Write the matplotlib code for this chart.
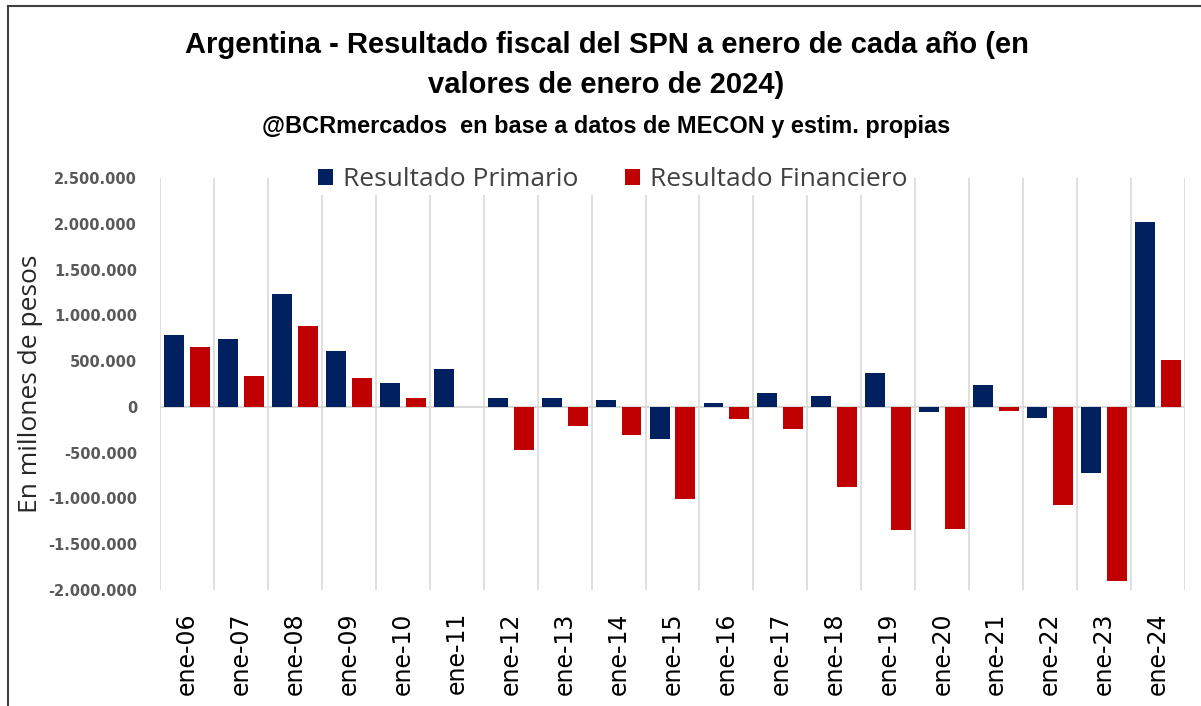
import numpy as np
import matplotlib
matplotlib.use('Agg')
import matplotlib.pyplot as plt
from matplotlib.ticker import FuncFormatter
from matplotlib.lines import Line2D

categories = ['ene-06', 'ene-07', 'ene-08', 'ene-09', 'ene-10', 'ene-11', 'ene-12',
              'ene-13', 'ene-14', 'ene-15', 'ene-16', 'ene-17', 'ene-18', 'ene-19',
              'ene-20', 'ene-21', 'ene-22', 'ene-23', 'ene-24']
primario = [783000, 736000, 1238000, 612000, 262000, 419000, 102000,
            102000, 73000, -346000, 44000, 153000, 117000, 375000,
            -58000, 240000, -120000, -717000, 2014000]
financiero = [655000, 339000, 881000, 310000, 102000, 0, -466000,
              -211000, -310000, -1002000, -135000, -244000, -874000, -1348000,
              -1333000, -40000, -1067000, -1901000, 510000]

BLUE = '#002060'
RED = '#C00000'
TITLE_FONT = ['Liberation Sans', 'DejaVu Sans']
LABEL_FONT = ['Open Sans', 'DejaVu Sans']

fig = plt.figure(figsize=(12.01, 7.06), dpi=100)
ax = fig.add_axes([0.1332, 0.1643, 0.8535, 0.5836])

x = np.arange(len(categories))
w = 0.37
ax.bar(x - 0.24, primario, w, color=BLUE, label='Resultado Primario', zorder=3)
ax.bar(x + 0.24, financiero, w, color=RED, label='Resultado Financiero', zorder=3)

ax.set_xlim(-0.5, len(categories) - 0.5)
ax.set_ylim(-2000000, 2500000)
ax.set_yticks(np.arange(-2000000, 2500001, 500000))
ax.yaxis.set_major_formatter(FuncFormatter(lambda v, p: f'{v:,.0f}'.replace(',', '.')))
for b in np.arange(-0.5, len(categories), 1.0):
    ax.axvline(b, color='#d9d9d9', lw=1.2, zorder=1)
ax.axhline(0, color='#d9d9d9', lw=1.5, zorder=2)

for s in ax.spines.values():
    s.set_visible(False)
ax.tick_params(axis='both', length=0)
ax.tick_params(axis='y', pad=16.5, labelcolor='#595959')
ax.set_xticks(x)
ax.set_xticklabels(categories, rotation=90, fontsize=17, family='DejaVu Sans')
ax.tick_params(axis='x', pad=16)
for lab in ax.get_yticklabels():
    lab.set_fontsize(10.5)
    lab.set_fontweight('bold')
    lab.set_family('DejaVu Sans')

ax.set_ylabel('En millones de pesos', fontsize=19, family=LABEL_FONT, color='#262626')
ax.yaxis.set_label_coords(-0.114, 0.5)

leg = ax.legend(ncol=2, loc='center', bbox_to_anchor=(613 / 1201, 1 - 180 / 706),
                bbox_transform=fig.transFigure, frameon=True, edgecolor='none',
                facecolor='white', framealpha=1, handlelength=0.55,
                handleheight=0.55, handletextpad=0.4, columnspacing=1.75,
                borderpad=0.1, prop={'family': LABEL_FONT, 'size': 19})
for t in leg.get_texts():
    t.set_color('#404040')

fig.text(0.505, 1 - 45 / 706, 'Argentina - Resultado fiscal del SPN a enero de cada año (en',
         ha='center', va='center', fontsize=21, fontweight='bold', family=TITLE_FONT)
fig.text(0.505, 1 - 85 / 706, 'valores de enero de 2024)',
         ha='center', va='center', fontsize=21, fontweight='bold', family=TITLE_FONT)
fig.text(0.505, 1 - 127 / 706, '@BCRmercados  en base a datos de MECON y estim. propias',
         ha='center', va='center', fontsize=16.9, fontweight='bold', family=TITLE_FONT)

fig.add_artist(Line2D([8 / 1201, 8 / 1201], [0, 1 - 6 / 706], color='#404040', lw=1.5))
fig.add_artist(Line2D([8 / 1201, 1], [1 - 6 / 706, 1 - 6 / 706], color='#404040', lw=1.5))

fig.savefig('out.png', dpi=100)
